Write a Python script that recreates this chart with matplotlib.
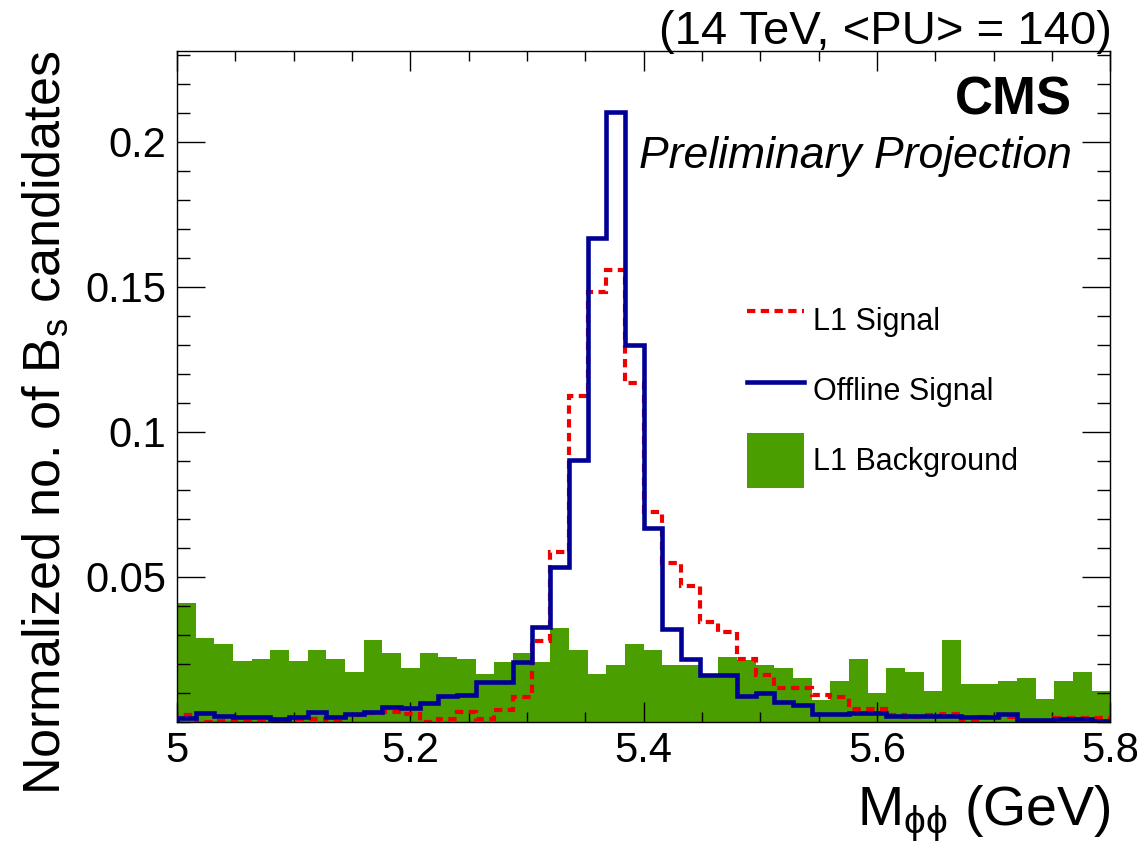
import numpy as np
import matplotlib
matplotlib.use("Agg")
import matplotlib.pyplot as plt
from matplotlib.lines import Line2D
from matplotlib.patches import Patch
from matplotlib.ticker import FixedLocator, FixedFormatter, MultipleLocator

plt.rcParams['font.family'] = ['Liberation Sans', 'DejaVu Sans']
plt.rcParams['mathtext.fontset'] = 'custom'
plt.rcParams['mathtext.rm'] = 'Liberation Sans'
plt.rcParams['mathtext.it'] = 'Liberation Sans:italic'
plt.rcParams['mathtext.bf'] = 'Liberation Sans:bold'

# Binning of the phi-phi invariant mass (GeV)
mass_min, mass_max = 5.0, 5.8

# Normalized Bs candidate yields per bin
l1_background = [0.041, 0.029, 0.0268, 0.0208, 0.0216, 0.0246, 0.0208, 0.0246, 0.0216, 0.0172,
                 0.0281, 0.0237, 0.0186, 0.0237, 0.0224, 0.0216, 0.0163, 0.0207, 0.0238, 0.0207,
                 0.0324, 0.0247, 0.0163, 0.0194, 0.0268, 0.0247, 0.0194, 0.0194, 0.0163, 0.0224,
                 0.0213, 0.0194, 0.0186, 0.0152, 0.0075, 0.0141, 0.0216, 0.0098, 0.0186, 0.0172,
                 0.0107, 0.0282, 0.0129, 0.0129, 0.0141, 0.0152, 0.0078, 0.0141, 0.0172, 0.0107]

l1_signal = [0.0023, 0.0, 0.0003, 0.0, 0.0, 0.0003, 0.0008, 0.001, 0.0, 0.0024,
             0.0029, 0.0032, 0.0025, 0.0, 0.0008, 0.0032, 0.0008, 0.004, 0.0086, 0.0278,
             0.0586, 0.1123, 0.1483, 0.1558, 0.1169, 0.0724, 0.0546, 0.0468, 0.0345, 0.031,
             0.0215, 0.0161, 0.0115, 0.0115, 0.0092, 0.0086, 0.0043, 0.0044, 0.0023, 0.0017,
             0.0023, 0.0025, 0.0, 0.0017, 0.0015, 0.0, 0.0, 0.0014, 0.0014, 0.0014]

offline_signal = [0.0012, 0.0029, 0.0021, 0.0015, 0.0015, 0.0008, 0.0015, 0.0032, 0.0017, 0.0027,
                  0.0034, 0.0052, 0.0046, 0.0063, 0.009, 0.0092, 0.0136, 0.0138, 0.0207, 0.0328,
                  0.0534, 0.0902, 0.1667, 0.2103, 0.1299, 0.0667, 0.0319, 0.0215, 0.0161, 0.0161,
                  0.0089, 0.0098, 0.0069, 0.0058, 0.0026, 0.0026, 0.0031, 0.0029, 0.002, 0.0018,
                  0.002, 0.002, 0.0016, 0.0017, 0.0026, 0.0007, 0.0007, 0.0008, 0.0008, 0.0003]

xtick_values = [5.0, 5.2, 5.4, 5.6, 5.8]
xtick_labels = ["5", "5.2", "5.4", "5.6", "5.8"]
ytick_values = [0.05, 0.1, 0.15, 0.2]
ytick_labels = ["0.05", "0.1", "0.15", "0.2"]
y_max = 0.2313

edges = np.linspace(mass_min, mass_max, len(l1_background) + 1)

green = '#4a9e00'
red = '#ee0000'
navy = '#000096'
red_dash = (0, (2.0, 1.3))

W, H = 1146, 842
fig = plt.figure(figsize=(W / 100, H / 100), dpi=100)
ax = fig.add_axes([177 / W, 120.3 / H, 933.3 / W, 670.7 / H])

ax.stairs(l1_background, edges, fill=True, color=green, linewidth=0, zorder=1)
ax.stairs(l1_signal, edges, color=red, linewidth=3.0, linestyle=red_dash, zorder=2)
ax.stairs(offline_signal, edges, color=navy, linewidth=3.3, zorder=3)

ax.set_xlim(mass_min, mass_max)
ax.set_ylim(0, y_max)

ax.xaxis.set_major_locator(FixedLocator(xtick_values))
ax.xaxis.set_major_formatter(FixedFormatter(xtick_labels))
ax.xaxis.set_minor_locator(MultipleLocator(0.05))
ax.yaxis.set_major_locator(FixedLocator(ytick_values))
ax.yaxis.set_major_formatter(FixedFormatter(ytick_labels))
ax.yaxis.set_minor_locator(MultipleLocator(0.01))

ax.tick_params(which='both', direction='in', top=True, right=True, width=1.0, colors='black')
ax.tick_params(axis='x', which='major', length=14.5, pad=7, labelsize=30)
ax.tick_params(axis='x', which='minor', length=7)
ax.tick_params(axis='y', which='major', length=20, pad=8, labelsize=30)
ax.tick_params(axis='y', which='minor', length=9.5)
for s in ax.spines.values():
    s.set_linewidth(1.0)

ax.set_xlabel(r"M$_{\mathrm{\phi\phi}}$ (GeV)", fontsize=40, loc='right')
ax.xaxis.set_label_coords(1.0, -0.092)
ax.set_ylabel(r"Normalized no. of B$_\mathrm{s}$ candidates", fontsize=37.5, loc='top')
ax.yaxis.set_label_coords(-0.114, 1.0)

ax.text(1.0018, 1.0104, "(14 TeV, <PU> = 140)", transform=ax.transAxes,
        ha='right', va='baseline', fontsize=34)
ax.text(0.959, 0.9046, "CMS", transform=ax.transAxes,
        ha='right', va='baseline', fontsize=38, fontweight='bold')
ax.text(0.959, 0.8255, "Preliminary Projection", transform=ax.transAxes,
        ha='right', va='baseline', fontsize=32, fontstyle='italic')

handles = [Line2D([], [], color=red, linewidth=3.0, linestyle=red_dash),
           Line2D([], [], color=navy, linewidth=3.3),
           Patch(facecolor=green, edgecolor='none')]
labels = ["L1 Signal", "Offline Signal", "L1 Background"]
ax.legend(handles, labels, loc='upper left',
          bbox_to_anchor=(747 / W, 1 - 293 / H), bbox_transform=fig.transFigure,
          frameon=False, fontsize=22, borderpad=0, borderaxespad=0,
          handlelength=1.85, handleheight=2.39, labelspacing=0.5, handletextpad=0.3)

fig.savefig("out.png", dpi=100)
